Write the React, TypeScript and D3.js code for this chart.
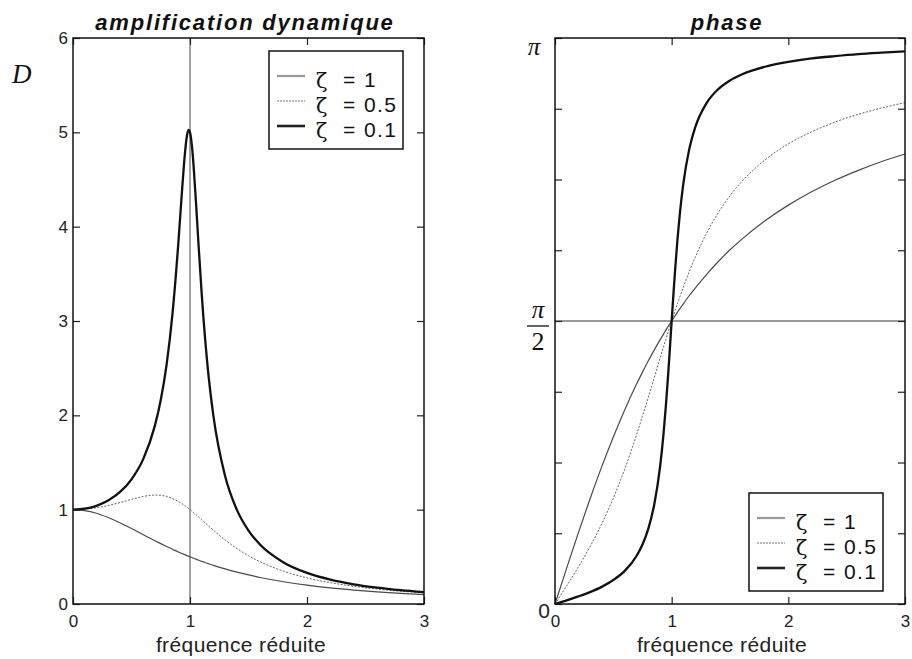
import * as d3 from 'd3'
import { useEffect, useRef } from 'react'

// reduced frequency samples (denser around resonance)
const freq = [0, 0.1, 0.2, 0.3, 0.4, 0.5, 0.6, 0.7, 0.75, 0.8, 0.85, 0.9, 0.93, 0.95, 0.97, 0.98, 0.99, 1.0,
  1.01, 1.02, 1.03, 1.05, 1.07, 1.1, 1.15, 1.2, 1.3, 1.4, 1.5, 1.6, 1.8, 2.0, 2.2, 2.4, 2.6, 2.8, 3.0]

// dynamic amplification D
const ampZeta1 = [1, 0.990, 0.962, 0.917, 0.862, 0.800, 0.735, 0.671, 0.640, 0.610, 0.581, 0.552, 0.536, 0.526,
  0.515, 0.510, 0.505, 0.500, 0.495, 0.490, 0.485, 0.476, 0.466, 0.452, 0.431, 0.410, 0.372, 0.338, 0.308, 0.281,
  0.236, 0.200, 0.171, 0.148, 0.129, 0.113, 0.100]
const ampZeta05 = [1, 1.005, 1.020, 1.044, 1.075, 1.109, 1.140, 1.155, 1.152, 1.140, 1.118, 1.087, 1.064, 1.047,
  1.029, 1.020, 1.010, 1.000, 0.990, 0.980, 0.969, 0.948, 0.926, 0.893, 0.837, 0.782, 0.679, 0.589, 0.512, 0.447,
  0.348, 0.277, 0.226, 0.188, 0.158, 0.135, 0.117]
const ampZeta01 = [1, 1.010, 1.041, 1.097, 1.185, 1.322, 1.536, 1.891, 2.162, 2.538, 3.073, 3.821, 4.350, 4.683,
  4.931, 5.001, 5.025, 5.000, 4.926, 4.809, 4.655, 4.279, 3.869, 3.288, 2.524, 1.995, 1.356, 1.000, 0.778, 0.628,
  0.441, 0.330, 0.259, 0.209, 0.173, 0.146, 0.125]

// phase (radians)
const phaseZeta1 = [0, 0.199, 0.395, 0.583, 0.761, 0.927, 1.081, 1.222, 1.287, 1.350, 1.409, 1.466, 1.498, 1.520,
  1.540, 1.551, 1.561, 1.571, 1.581, 1.591, 1.600, 1.620, 1.638, 1.666, 1.711, 1.752, 1.830, 1.901, 1.966, 2.024,
  2.127, 2.214, 2.288, 2.352, 2.407, 2.456, 2.498]
const phaseZeta05 = [0, 0.101, 0.205, 0.318, 0.444, 0.588, 0.753, 0.941, 1.043, 1.148, 1.255, 1.363, 1.427, 1.469,
  1.510, 1.530, 1.551, 1.571, 1.591, 1.610, 1.630, 1.668, 1.705, 1.759, 1.844, 1.922, 2.059, 2.172, 2.266, 2.344,
  2.465, 2.554, 2.621, 2.675, 2.718, 2.753, 2.783]
const phaseZeta01 = [0, 0.020, 0.042, 0.066, 0.095, 0.133, 0.185, 0.268, 0.330, 0.418, 0.550, 0.758, 0.943, 1.097,
  1.275, 1.371, 1.471, 1.571, 1.670, 1.766, 1.858, 2.025, 2.166, 2.333, 2.522, 2.642, 2.781, 2.858, 2.906, 2.939,
  2.982, 3.009, 3.028, 3.041, 3.052, 3.060, 3.067]

const zetaLabels = ['1', '0.5', '0.1']
const freqTicks = [0, 1, 2, 3]
const ampTicks = [0, 1, 2, 3, 4, 5, 6]
const phaseTickEighths = [0, 1, 2, 3, 4, 5, 6, 7, 8]

const W = 912
const H = 659
const SANS = '"Liberation Sans", Arial, Helvetica, sans-serif'
const SERIF = '"Liberation Serif", "Times New Roman", serif'

const styles = [
  { stroke: '#4a4a4a', width: 1.2, dash: '', legStroke: '#9a9a9a', legWidth: 2.2, legDash: '' },
  { stroke: '#666', width: 1, dash: '2,1.5', legStroke: '#777', legWidth: 1.2, legDash: '2,1' },
  { stroke: '#111', width: 2.3, dash: '', legStroke: '#222', legWidth: 2.6, legDash: '' },
]

function drawFrame(g: any, x: any, y: any, xTicks: number[], yTicks: number[], yFormat: any) {
  const [xa, xb] = x.range()
  const [yb, ya] = y.range()

  const style = (sel: any) => {
    sel.select('.domain').remove()
    sel.attr('font-size', 17).attr('font-family', SANS).attr('color', '#222')
    sel.selectAll('line').attr('stroke-width', 1.2)
  }

  g.append('g').attr('transform', `translate(0,${yb})`)
    .call(d3.axisBottom(x).tickValues(xTicks).tickSizeInner(-7).tickSizeOuter(0).tickPadding(11).tickFormat(d3.format('d')))
    .call(style)
  g.append('g').attr('transform', `translate(0,${ya})`)
    .call(d3.axisTop(x).tickValues(xTicks).tickSizeInner(-7).tickSizeOuter(0).tickFormat(() => ''))
    .call(style)
  g.append('g').attr('transform', `translate(${xa},0)`)
    .call(d3.axisLeft(y).tickValues(yTicks).tickSizeInner(-7).tickSizeOuter(0).tickPadding(5).tickFormat(yFormat))
    .call(style)
  g.append('g').attr('transform', `translate(${xb},0)`)
    .call(d3.axisRight(y).tickValues(yTicks).tickSizeInner(-7).tickSizeOuter(0).tickFormat(() => ''))
    .call(style)

  g.append('rect')
    .attr('x', xa).attr('y', ya).attr('width', xb - xa).attr('height', yb - ya)
    .attr('fill', 'none').attr('stroke', '#111').attr('stroke-width', 1.5)
}

function drawCurves(g: any, x: any, y: any, values: number[][]) {
  const line = d3.line<number>()
    .x((_d, i) => x(freq[i]))
    .y((d) => y(d))
    .curve(d3.curveMonotoneX)
  values.forEach((vals, i) => {
    g.append('path')
      .attr('d', line(vals))
      .attr('fill', 'none')
      .attr('stroke', styles[i].stroke)
      .attr('stroke-width', styles[i].width)
      .attr('stroke-dasharray', styles[i].dash || null)
      .attr('stroke-linejoin', 'round')
  })
}

function drawLegend(g: any, bx: number, by: number) {
  const w = 134
  const h = 98
  g.append('rect').attr('x', bx).attr('y', by).attr('width', w).attr('height', h)
    .attr('fill', '#fff').attr('stroke', '#111').attr('stroke-width', 1.5)
  zetaLabels.forEach((z, i) => {
    const base = by + 36 + i * 25
    const s = styles[i]
    g.append('line')
      .attr('x1', bx + 8).attr('x2', bx + 36).attr('y1', base - 11).attr('y2', base - 11)
      .attr('stroke', s.legStroke).attr('stroke-width', s.legWidth)
      .attr('stroke-dasharray', s.legDash || null)
    g.append('text').attr('x', bx + 47).attr('y', base + 1)
      .attr('font-family', '"DejaVu Serif", serif').attr('font-size', 21).attr('fill', '#111')
      .text('ζ')
    g.append('text').attr('x', bx + 74).attr('y', base)
      .attr('font-family', SANS).attr('font-size', 21).attr('letter-spacing', 1.4).attr('fill', '#111')
      .text(`= ${z}`)
  })
}

function drawTitle(g: any, cx: number, text: string) {
  g.append('text').attr('x', cx).attr('y', 30)
    .attr('text-anchor', 'middle')
    .attr('font-family', SANS).attr('font-size', 22).attr('font-weight', 'bold').attr('font-style', 'italic')
    .attr('letter-spacing', 1.8).attr('fill', '#111')
    .text(text)
}

function drawXLabel(g: any, cx: number) {
  g.append('text').attr('x', cx).attr('y', 652)
    .attr('text-anchor', 'middle')
    .attr('font-family', SANS).attr('font-size', 21).attr('letter-spacing', 0.4).attr('fill', '#222')
    .text('fréquence réduite')
}

export default function App() {
  const ref = useRef<SVGSVGElement>(null)

  useEffect(() => {
    const svg = d3.select(ref.current)
    svg.selectAll('*').remove()

    // ---- left panel: amplification dynamique
    const xL = d3.scaleLinear().domain([0, 3]).range([73, 424])
    const yL = d3.scaleLinear().domain([0, 6]).range([604, 38])
    const gL = svg.append('g')

    gL.append('line')
      .attr('x1', xL(1)).attr('x2', xL(1)).attr('y1', yL(0)).attr('y2', yL(6))
      .attr('stroke', '#444').attr('stroke-width', 1)
    drawCurves(gL, xL, yL, [ampZeta1, ampZeta05, ampZeta01])
    drawFrame(gL, xL, yL, freqTicks, ampTicks, d3.format('d'))
    drawLegend(gL, 269, 51)
    drawTitle(gL, 245, 'amplification dynamique')
    drawXLabel(gL, 241)
    gL.append('text').attr('x', 12).attr('y', 83)
      .attr('font-family', SERIF).attr('font-style', 'italic').attr('font-size', 27).attr('fill', '#111')
      .text('D')

    // ---- right panel: phase
    const xR = d3.scaleLinear().domain([0, 3]).range([555, 905])
    const yR = d3.scaleLinear().domain([0, Math.PI]).range([604, 38])
    const gR = svg.append('g')

    gR.append('line')
      .attr('x1', xR(0)).attr('x2', xR(3)).attr('y1', yR(Math.PI / 2)).attr('y2', yR(Math.PI / 2))
      .attr('stroke', '#999').attr('stroke-width', 2)
    drawCurves(gR, xR, yR, [phaseZeta1, phaseZeta05, phaseZeta01])
    drawFrame(gR, xR, yR, freqTicks, phaseTickEighths.map((k) => (k * Math.PI) / 8), () => '')
    drawLegend(gR, 749, 493)
    drawTitle(gR, 727, 'phase')
    drawXLabel(gR, 722)

    const lx = 538
    gR.append('text').attr('x', lx - 4).attr('y', yR(Math.PI) + 17).attr('text-anchor', 'middle')
      .attr('font-family', SERIF).attr('font-style', 'italic').attr('font-size', 25).attr('fill', '#111')
      .text('π')
    gR.append('text').attr('x', lx).attr('y', yR(Math.PI / 2) - 3).attr('text-anchor', 'middle')
      .attr('font-family', SERIF).attr('font-style', 'italic').attr('font-size', 25).attr('fill', '#111')
      .text('π')
    gR.append('line').attr('x1', lx - 11).attr('x2', lx + 11)
      .attr('y1', yR(Math.PI / 2) + 5).attr('y2', yR(Math.PI / 2) + 5)
      .attr('stroke', '#111').attr('stroke-width', 1.3)
    gR.append('text').attr('x', lx).attr('y', yR(Math.PI / 2) + 29).attr('text-anchor', 'middle')
      .attr('font-family', SERIF).attr('font-size', 26).attr('fill', '#111')
      .text('2')
    gR.append('text').attr('x', 550).attr('y', yR(0) + 14).attr('text-anchor', 'end')
      .attr('font-family', SANS).attr('font-size', 21).attr('fill', '#222')
      .text('0')
  }, [])

  return (
    <svg ref={ref} width={W} height={H}
      style={{ position: 'absolute', left: 0, top: 0, background: '#fff', display: 'block' }} />
  )
}
